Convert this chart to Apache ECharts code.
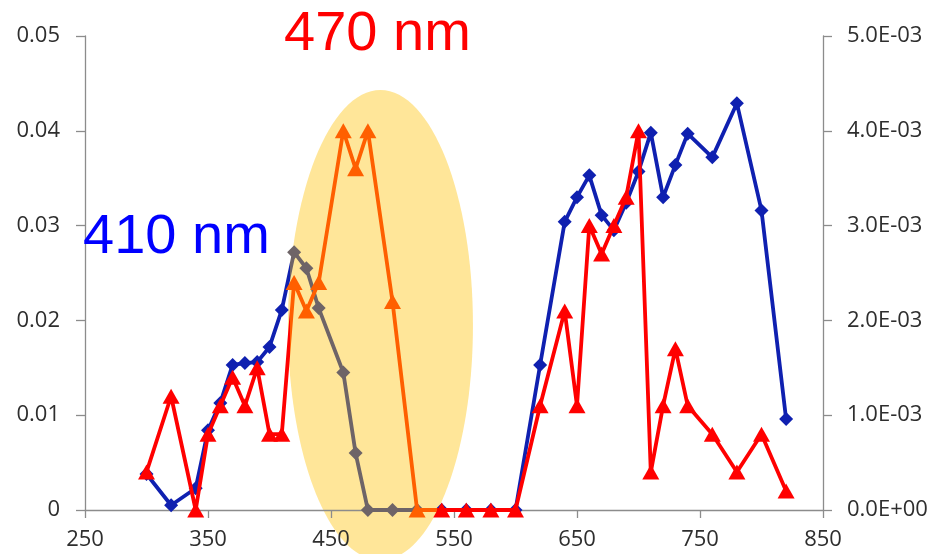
<!DOCTYPE html>
<html>
<head>
<meta charset="utf-8">
<script src="https://cdn.jsdelivr.net/npm/echarts@6/dist/echarts.min.js"></script>
<style>html,body{margin:0;padding:0;background:#fff}#c{width:939px;height:554px}</style>
</head>
<body>
<div id="c"></div>
<script>
// Wavelengths (nm)
const wavelengths = [300,320,340,350,360,370,380,390,400,410,420,430,440,460,470,480,500,520,540,560,580,600,620,640,650,660,670,680,690,700,710,720,730,740,760,780,800,820];
// Blue series (left axis)
const blueValues = [0.0038,0.0005,0.0023,0.0084,0.0113,0.0153,0.0155,0.0156,0.0172,0.0211,0.0272,0.0255,0.0213,0.0145,0.0060,0,0,0,0,0,0,0,0.0153,0.0304,0.0330,0.0353,0.0311,0.0295,0.0324,0.0357,0.0398,0.0330,0.0364,0.0397,0.0372,0.0429,0.0316,0.0096];
// Red series (right axis)
const redValues = [0.0004,0.0012,0,0.0008,0.0011,0.0014,0.0011,0.0015,0.0008,0.0008,0.0024,0.0021,0.0024,0.0040,0.0036,0.0040,0.0022,0,0,0,0,0,0.0011,0.0021,0.0011,0.0030,0.0027,0.0030,0.0033,0.0040,0.0004,0.0011,0.0017,0.0011,0.0008,0.0004,0.0008,0.0002];
// Highlight ellipse (data coords: center x, center y on left axis, radius x, radius y)
const ellipseCenter = [490.2, 0.0195];
const ellipseRadius = [75.2, 0.0248];
const highlightRange = [416.7, 536];
// Tick settings
const xTicks = {min:250, max:850, interval:100};
const leftTicks = {min:0, max:0.05, interval:0.01};
const rightTicks = {min:0, max:0.005, interval:0.001};
const annotations = [{text:'470 nm', color:'#ff0000', left:284, top:7},{text:'410 nm', color:'#0000ff', left:83, top:210}];

const BLUE = '#0f20b0', GRAY = '#6e6467', RED = '#ff0000', ORANGE = '#ff5f00';
const AX = '#8c8c8c', LBL = '#2e2e2e';

function sci(v){
  if (v === 0) return '0.0E+00';
  let e = Math.floor(Math.log10(v) + 1e-9);
  let m = v / Math.pow(10, e);
  const s = Math.abs(e) < 10 ? '0' + Math.abs(e) : '' + Math.abs(e);
  return m.toFixed(1) + 'E' + (e < 0 ? '-' : '+') + s;
}

const chart = echarts.init(document.getElementById('c'), null, {renderer:'canvas'});
const axisLabelFont = {fontFamily:'Open Sans', fontSize:22, color:LBL};
chart.setOption({
  animation:false,
  grid:{left:85, right:116, top:36, bottom:44, containLabel:false},
  xAxis:{type:'value', min:xTicks.min, max:xTicks.max, interval:xTicks.interval, z:1,
    axisLine:{lineStyle:{color:AX, width:1.3}}, axisTick:{show:true, length:8, lineStyle:{color:AX, width:1.3}},
    splitLine:{show:false}, axisLabel:Object.assign({margin:19}, axisLabelFont)},
  yAxis:[
    {type:'value', min:leftTicks.min, max:leftTicks.max, interval:leftTicks.interval, position:'left', z:1,
      axisLine:{show:true, lineStyle:{color:AX, width:1.3}}, axisTick:{show:true, length:9, lineStyle:{color:AX, width:1.3}},
      splitLine:{show:false}, axisLabel:Object.assign({margin:25}, axisLabelFont)},
    {type:'value', min:rightTicks.min, max:rightTicks.max, interval:rightTicks.interval, position:'right', z:1,
      axisLine:{show:true, lineStyle:{color:AX, width:1.3}}, axisTick:{show:true, length:9, lineStyle:{color:AX, width:1.3}},
      splitLine:{show:false}, axisLabel:Object.assign({margin:24, formatter:sci}, axisLabelFont)}
  ],
  visualMap:[
    {type:'piecewise', show:false, seriesIndex:1, dimension:0,
      pieces:[{lt:highlightRange[0], color:BLUE},{gte:highlightRange[0], lt:highlightRange[1], color:GRAY},{gte:highlightRange[1], color:BLUE}]},
    {type:'piecewise', show:false, seriesIndex:2, dimension:0,
      pieces:[{lt:highlightRange[0], color:RED},{gte:highlightRange[0], lt:highlightRange[1], color:ORANGE},{gte:highlightRange[1], color:RED}]}
  ],
  series:[
    {type:'custom', z:0, clip:false, silent:true, xAxisIndex:0, yAxisIndex:0,
      data:[[ellipseCenter[0], ellipseCenter[1], ellipseRadius[0], ellipseRadius[1]]],
      renderItem:function(params, api){
        const c = api.coord([api.value(0), api.value(1)]);
        const s = api.size([api.value(2), api.value(3)]);
        return {type:'ellipse', shape:{cx:c[0], cy:c[1], rx:s[0], ry:s[1]}, style:{fill:'#ffe699'}};
      }},
    {type:'line', z:2, yAxisIndex:0, data:wavelengths.map((w,i)=>[w, blueValues[i]]),
      symbol:'diamond', symbolSize:[14,14], lineStyle:{width:3.8}, itemStyle:{color:BLUE}},
    {type:'line', z:3, yAxisIndex:1, data:wavelengths.map((w,i)=>[w, redValues[i]]),
      symbol:'triangle', symbolSize:[17,15], lineStyle:{width:3.8}, itemStyle:{color:RED}}
  ],
  graphic: annotations.map(a => ({type:'text', left:a.left, top:a.top, z:10,
    style:{text:a.text, fill:a.color, font:'56px "Liberation Sans"'}}))
});
</script>
</body>
</html>
